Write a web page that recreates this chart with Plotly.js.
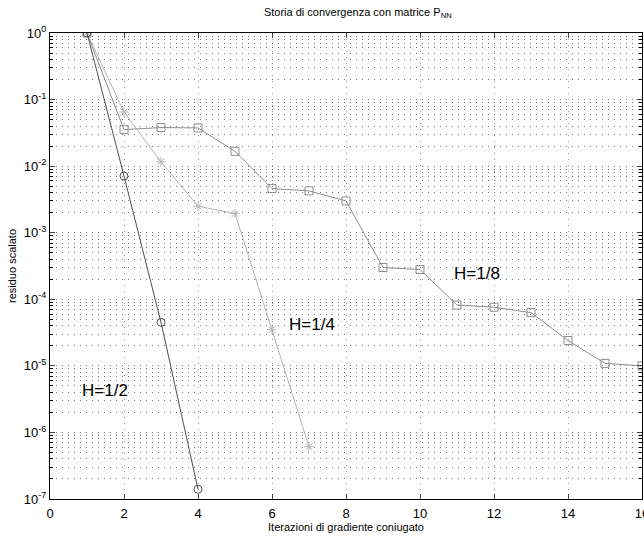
<!DOCTYPE html>
<html><head><meta charset="utf-8">
<script src="https://cdn.plot.ly/plotly-3.0.1.min.js"></script>
<style>html,body{margin:0;padding:0;background:#fff;} #chart{width:644px;height:536px;}</style>
</head><body><div id="chart"></div>
<script>
// ---- data ----
const iterH2 = [1, 2, 3, 4];
const resH2 = [1, 7.1e-3, 4.5e-5, 1.4e-7];
const iterH4 = [1, 2, 3, 4, 5, 6, 7];
const resH4 = [1, 0.065, 0.0116, 2.5e-3, 1.94e-3, 3.5e-5, 6.1e-7];
const iterH8 = [1, 2, 3, 4, 5, 6, 7, 8, 9, 10, 11, 12, 13, 14, 15, 16];
const resH8 = [1, 0.0354, 0.038, 0.0375, 0.0167, 4.6e-3, 4.25e-3, 3.0e-3, 3.0e-4, 2.8e-4, 8.2e-5, 7.6e-5, 6.3e-5, 2.4e-5, 1.09e-5, 1.0e-5];
const seriesLabels = ['H=1/2', 'H=1/4', 'H=1/8'];
const xTickVals = [0, 2, 4, 6, 8, 10, 12, 14, 16];
const yTickVals = [1e-7, 1e-6, 1e-5, 1e-4, 1e-3, 1e-2, 1e-1, 1];
const yTickText = ['10<sup>-7</sup>', '10<sup>-6</sup>', '10<sup>-5</sup>', '10<sup>-4</sup>', '10<sup>-3</sup>', '10<sup>-2</sup>', '10<sup>-1</sup>', '10<sup>0</sup>'];
const titleText = 'Storia di convergenza con matrice P<sub>NN</sub>';
const xTitle = 'Iterazioni di gradiente coniugato';
const yTitle = 'residuo scalato';

const FONT = 'Liberation Sans, Arial, Helvetica, sans-serif';
const gridDash = '1px,5px';

const traces = [
  {x: iterH8, y: resH8, mode: 'lines+markers', name: seriesLabels[2],
   line: {color: '#8c8c8c', width: 1},
   marker: {symbol: 'square-open', size: 8, color: '#8c8c8c', line: {width: 1}}},
  {x: iterH4, y: resH4, mode: 'lines+markers', name: seriesLabels[1],
   line: {color: '#b4b4b4', width: 1},
   marker: {symbol: 'asterisk-open', size: 8, color: '#b4b4b4', line: {width: 1, color: '#b4b4b4'}}},
  {x: iterH2, y: resH2, mode: 'lines+markers', name: seriesLabels[0],
   line: {color: '#505050', width: 1},
   marker: {symbol: 'circle-open', size: 8, color: '#505050', line: {width: 1}}}
];

const layout = {
  width: 644, height: 536,
  margin: {l: 50, r: 2, t: 33, b: 37, pad: 0},
  paper_bgcolor: '#fff', plot_bgcolor: '#fff',
  showlegend: false,
  font: {family: FONT, size: 12, color: '#000'},
  title: {text: titleText, font: {family: FONT, size: 11, color: '#000'},
          x: 0.52, xref: 'paper', xanchor: 'center', y: 0.985, yanchor: 'top'},
  xaxis: {
    range: [0, 16], tickvals: xTickVals, ticks: 'inside', ticklen: 5,
    showline: true, linecolor: '#000', linewidth: 1, mirror: 'ticks',
    showgrid: true, gridcolor: '#999', griddash: gridDash, gridwidth: 1,
    zeroline: false, tickfont: {size: 13}, ticklabelstandoff: 2,
    ticklabeloverflow: 'allow',
    title: {text: xTitle, font: {size: 11}, standoff: 3}
  },
  yaxis: {
    type: 'log', range: [-7, 0], tickvals: yTickVals, ticktext: yTickText,
    ticks: 'inside', ticklen: 5,
    showline: true, linecolor: '#000', linewidth: 1, mirror: 'ticks',
    showgrid: true, gridcolor: '#777', griddash: gridDash, gridwidth: 1,
    zeroline: false, tickfont: {size: 13}, ticklabeloverflow: 'allow',
    minor: {dtick: 'D1', ticks: 'inside', ticklen: 3, tickcolor: '#000',
            showgrid: true, gridcolor: '#777', griddash: gridDash, gridwidth: 1},
    title: {text: yTitle, font: {size: 11}, standoff: 4}
  },
  annotations: [
    {x: 1.49, y: -5.375, xref: 'x', yref: 'y', text: seriesLabels[0], showarrow: false, font: {size: 17, family: FONT}},
    {x: 7.07, y: -4.374, xref: 'x', yref: 'y', text: seriesLabels[1], showarrow: false, font: {size: 17, family: FONT}},
    {x: 11.53, y: -3.61, xref: 'x', yref: 'y', text: seriesLabels[2], showarrow: false, font: {size: 17, family: FONT}}
  ]
};

Plotly.newPlot('chart', traces, layout, {displayModeBar: false, staticPlot: true});
</script>
</body></html>
